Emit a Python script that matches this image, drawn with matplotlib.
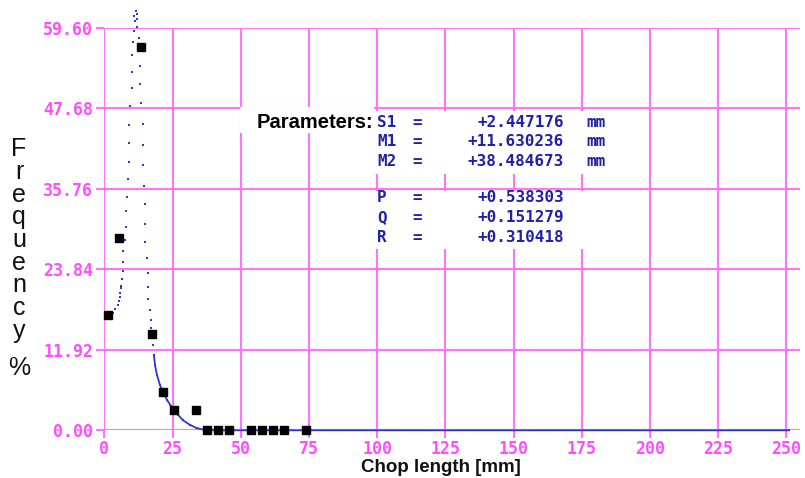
import numpy as np
import matplotlib
matplotlib.use("Agg")
import matplotlib.pyplot as plt
from matplotlib.patches import Rectangle

# measured chop length histogram (bin centres, %)
bin_x = [1.5, 5.5, 13.6, 17.6, 21.6, 25.7, 33.6, 37.6, 41.7, 45.7, 53.8, 57.8, 61.8, 65.9, 73.9]
bin_freq = [17.1, 28.4, 56.8, 14.2, 5.7, 3.0, 3.0, 0.0, 0.0, 0.0, 0.0, 0.0, 0.0, 0.0, 0.0]

# fitted curve (up the left flank, down the right flank)
curve_x = [1.5, 3.3, 3.9, 4.9, 5.4, 5.6, 5.9, 6.0, 6.1, 6.5, 7.0, 7.0, 7.0, 7.5,
           7.8, 8.0, 8.3, 8.6, 9.1, 9.1, 9.1, 9.5, 10.2, 10.2, 10.2, 10.5, 11.0,
           11.1, 11.0, 11.5,
           12.0, 12.0, 12.1, 12.6, 13.0, 13.1, 13.1, 13.6, 14.1, 14.1, 14.1, 14.4,
           14.8, 15.0, 15.0, 15.5, 16.0, 16.0, 16.0, 16.6, 17.0, 17.1, 17.9, 18.2,
           18.6, 19.3, 20.4, 21.5, 23.0, 24.1, 25.5, 27.0, 28.8, 31.4, 34.0, 36.9,
           40.0, 251.0]
curve_y = [17.0, 17.4, 18.0, 18.6, 19.2, 19.7, 20.3, 21.0, 21.4, 22.4, 23.6, 24.9,
           26.5, 28.1, 30.1, 32.4, 34.6, 37.2, 39.7, 42.6, 45.2, 48.0, 50.6, 53.1,
           55.5, 57.5, 59.1, 60.6, 61.4, 62.0,
           61.7, 60.9, 59.7, 58.1, 56.2, 53.9, 51.2, 48.4, 45.3, 42.3, 39.3, 36.2,
           33.5, 30.6, 27.9, 25.5, 23.3, 21.2, 19.4, 17.8, 16.4, 15.1, 12.6, 11.1,
           9.6, 8.2, 6.7, 5.7, 4.5, 3.8, 3.0, 2.3, 1.5, 0.8, 0.3, 0.05,
           0.0, 0.0]

x_ticks = [0, 25, 50, 75, 100, 125, 150, 175, 200, 225, 250]
y_ticks = [0.0, 11.92, 23.84, 35.76, 47.68, 59.60]

param_names = ["S1", "M1", "M2", "P", "Q", "R"]
param_values = ["+2.447176", "+11.630236", "+38.484673", "+0.538303", "+0.151279", "+0.310418"]
param_units = ["mm", "mm", "mm", "", "", ""]

W, H = 805, 478
MAGENTA = "#ff4dff"
GRID = "#ff73ff"
BLUE = "#2020a8"
MONO = "DejaVu Sans Mono"


def fx(px):
    return px / W


def fy(py):
    return 1 - py / H


fig = plt.figure(figsize=(W / 100, H / 100), dpi=100)
ax = fig.add_axes([fx(104.3), fy(430.3), fx(800) - fx(104.3), fy(27.7) - fy(430.3)])
ax.set_xlim(0, 255)
ax.set_ylim(0, 59.6)
ax.set_axisbelow(True)
for s in ax.spines.values():
    s.set_visible(False)

ax.set_xticks(x_ticks)
ax.set_yticks(y_ticks)
ax.set_xticklabels([str(t) for t in x_ticks])
ax.set_yticklabels([f"{t:.2f}" for t in y_ticks])
ax.grid(True, color=GRID, lw=1.5)
ax.tick_params(direction="out", length=6, width=1.5, color=GRID,
               labelcolor=MAGENTA, labelsize=12, pad=2)
ax.tick_params(axis="x", pad=1)
for lab in ax.get_xticklabels() + ax.get_yticklabels():
    lab.set_family(MONO)
    lab.set_weight("bold")

# curve: sparse dots on the steep part, solid on the tail
cx = np.array(curve_x)
cy = np.array(curve_y)
ax.plot(cx, cy, ls="none", marker="s", ms=1.7, color="#3535d0", mew=0,
        clip_on=False, zorder=3)
tail = cx >= 18
ax.plot(cx[tail], cy[tail], lw=1.3, color="#3535d0", clip_on=False, zorder=3)

ax.plot(bin_x, bin_freq, ls="none", marker="s", ms=5.5, color="black",
        clip_on=False, zorder=4)

# white boxes behind the parameter text
for x0, y0, x1, y1 in [(240, 107, 374, 133), (374, 111, 615, 174), (374, 191, 615, 249)]:
    fig.patches.append(Rectangle((fx(x0), fy(y1)), fx(x1) - fx(x0), fy(y0) - fy(y1),
                                 transform=fig.transFigure, facecolor="white",
                                 edgecolor="none", zorder=1))

fig.text(fx(373), fy(123), "Parameters:", ha="right", va="center",
         family="Liberation Sans", weight="bold", fontsize=14.5, color="black", zorder=3)
row_y = [123, 142, 161, 198, 218, 238]
for name, val, unit, py in zip(param_names, param_values, param_units, row_y):
    kw = dict(va="center", family=MONO, weight="bold", fontsize=11.5, color=BLUE, zorder=3)
    fig.text(fx(377), fy(py), name, ha="left", **kw)
    fig.text(fx(412), fy(py), "=", ha="left", **kw)
    fig.text(fx(564), fy(py), val, ha="right", **kw)
    if unit:
        fig.text(fx(586), fy(py), unit, ha="left", **kw)

fig.text(fx(441), fy(468), "Chop length [mm]", ha="center", va="center",
         family="Liberation Sans", weight="bold", fontsize=13.5, color="#111111")

fig.text(fx(19), fy(240), "\n".join("Frequency"), ha="center", va="center",
         family="Liberation Sans", fontsize=18, linespacing=0.93, color="#111111")
fig.text(fx(19), fy(368), "%", ha="center", va="center",
         family="Liberation Sans", fontsize=18, color="#111111")

fig.savefig("out.png", dpi=100)
